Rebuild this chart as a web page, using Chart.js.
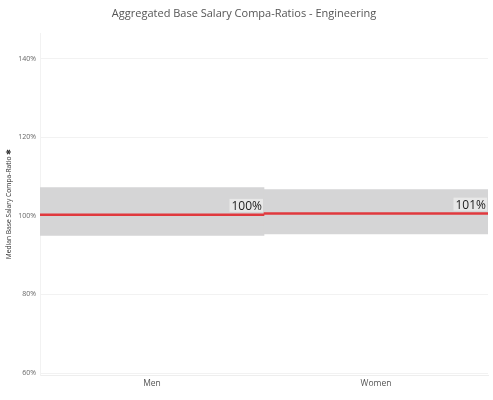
<!DOCTYPE html>
<html>
<head>
<meta charset="utf-8">
<script src="https://cdn.jsdelivr.net/npm/chart.js@4"></script>
<style>
  html, body { margin: 0; padding: 0; background: #fff; }
  #wrap { width: 493px; height: 400px; }
</style>
</head>
<body>
<div id="wrap"><canvas id="grafico"></canvas></div>
<script>
  const categorias = ['Men', 'Women'];
  const faixaMin = [95.0, 95.4];
  const faixaMax = [107.2, 106.7];
  const medianas = [100.3, 100.6];
  const ticksY = [60, 80, 100, 120, 140];

  // rotulo de texto na ponta direita de cada linha da mediana
  const rotulos = {
    id: 'rotulos',
    afterDatasetsDraw(chart) {
      const meta = chart.getDatasetMeta(0);
      const ctx = chart.ctx;
      ctx.save();
      ctx.font = '12px "Open Sans", sans-serif';
      ctx.textAlign = 'right';
      ctx.textBaseline = 'bottom';
      meta.data.forEach((bar, i) => {
        const txt = Math.round(medianas[i]) + '%';
        const xr = bar.x + bar.width / 2 - 2;
        const yb = bar.y - 2;
        const w = ctx.measureText(txt).width;
        ctx.fillStyle = 'rgba(240,240,240,0.7)';
        ctx.fillRect(xr - w - 2, yb - 13, w + 3, 13);
        ctx.fillStyle = '#222';
        ctx.fillText(txt, xr, yb + 1);
      });
      ctx.restore();
    }
  };

  new Chart(document.getElementById('grafico'), {
    type: 'bar',
    data: {
      labels: categorias,
      datasets: [
        {
          label: 'Mediana',
          data: medianas.map(m => [m - 0.22, m + 0.22]),
          backgroundColor: '#e0393e',
          grouped: false,
          order: 0,
          barPercentage: 1,
          categoryPercentage: 1
        },
        {
          label: 'Faixa',
          data: faixaMin.map((v, i) => [v, faixaMax[i]]),
          backgroundColor: '#d5d5d6',
          grouped: false,
          order: 1,
          barPercentage: 1,
          categoryPercentage: 1
        }
      ]
    },
    options: {
      responsive: true,
      maintainAspectRatio: false,
      animation: false,
      layout: { padding: { top: 7, right: 5, bottom: 7, left: 0 } },
      plugins: {
        legend: { display: false },
        tooltip: { enabled: false },
        title: {
          display: true,
          text: 'Aggregated Base Salary Compa-Ratios - Engineering',
          color: '#555',
          font: { family: 'Open Sans', size: 11, weight: 'normal' },
          padding: { top: 0, bottom: 13 }
        }
      },
      scales: {
        x: {
          grid: { display: false, drawTicks: false },
          border: { color: '#eeeeee' },
          afterFit: (axis) => { axis.height = 18; },
          ticks: { color: '#555', font: { family: 'Open Sans', size: 8.5 }, padding: 3 }
        },
        y: {
          min: 59.5,
          max: 146.5,
          afterBuildTicks: (axis) => { axis.ticks = ticksY.map(v => ({ value: v })); },
          afterFit: (axis) => { axis.width = 40; },
          grid: { color: '#f2f2f2', drawTicks: false },
          border: { color: '#f2f2f2' },
          ticks: {
            color: '#666',
            font: { family: 'Open Sans', size: 7 },
            padding: 4,
            callback: v => v + '%'
          },
          title: {
            display: true,
            text: 'Median Base Salary Compa-Ratio ✱',
            color: '#333',
            font: { family: 'Open Sans', size: 6.7 },
            padding: { top: 5, bottom: 0 }
          }
        }
      }
    },
    plugins: [rotulos]
  });
</script>
</body>
</html>
